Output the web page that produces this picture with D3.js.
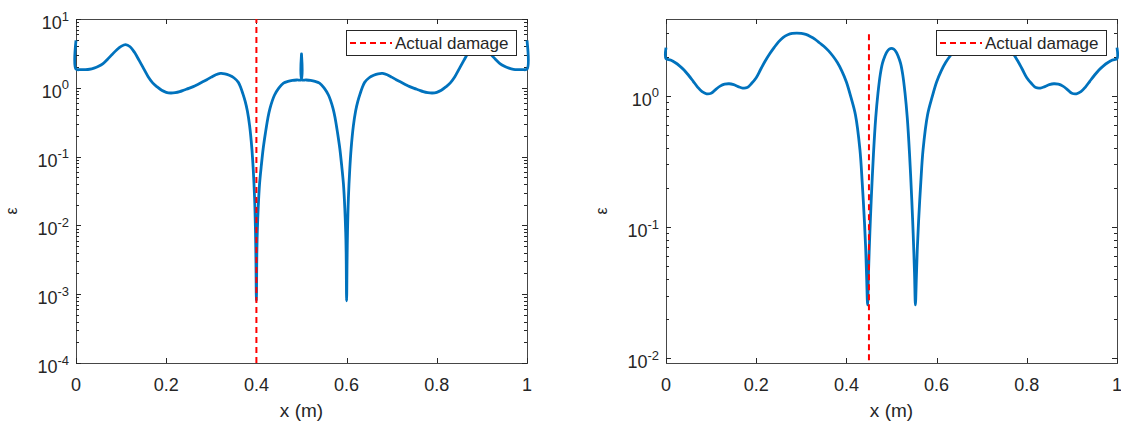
<!DOCTYPE html>
<html>
<head>
<meta charset="utf-8">
<script src="https://cdn.jsdelivr.net/npm/d3@7"></script>
<style>
  html, body { margin: 0; padding: 0; background: #fff; }
  svg { display: block; }
  text { font-family: "Liberation Sans", Arial, sans-serif; fill: #262626; }
</style>
</head>
<body>
<svg id="chart" width="1121" height="427"></svg>
<script>
// ---------------- DATA ----------------
const xTickValues = [0, 0.2, 0.4, 0.6, 0.8, 1];
const xTickLabels = ["0", "0.2", "0.4", "0.6", "0.8", "1"];
const leftYExponents = [-4, -3, -2, -1, 0, 1];
const rightYExponents = [-2, -1, 0];

const leftX = [0, 0, 0.01, 0.02, 0.03, 0.04, 0.05, 0.06, 0.07, 0.08, 0.09, 0.10, 0.11, 0.12, 0.13, 0.14, 0.15, 0.16, 0.17, 0.18, 0.19, 0.20, 0.21, 0.22, 0.23, 0.24, 0.25, 0.26, 0.27, 0.28, 0.29, 0.30, 0.31, 0.32, 0.33, 0.34, 0.35, 0.36, 0.365, 0.37, 0.375, 0.38, 0.385, 0.39, 0.393, 0.396, 0.398, 0.399, 0.4, 0.401, 0.402, 0.404, 0.407, 0.411, 0.415, 0.42, 0.425, 0.43, 0.44, 0.45, 0.46, 0.47, 0.48, 0.49, 0.499, 0.5, 0.501, 0.51, 0.52, 0.53, 0.54, 0.55, 0.56, 0.57, 0.575, 0.58, 0.585, 0.589, 0.593, 0.596, 0.598, 0.599, 0.6, 0.601, 0.602, 0.604, 0.607, 0.61, 0.615, 0.62, 0.625, 0.63, 0.635, 0.64, 0.65, 0.66, 0.67, 0.68, 0.69, 0.70, 0.71, 0.72, 0.73, 0.74, 0.75, 0.76, 0.77, 0.78, 0.79, 0.80, 0.81, 0.82, 0.83, 0.84, 0.85, 0.86, 0.87, 0.88, 0.89, 0.90, 0.91, 0.92, 0.93, 0.94, 0.95, 0.96, 0.97, 0.98, 0.99, 1.0, 1.0];
const leftEps = [4.9, 1.87, 1.84, 1.84, 1.86, 1.93, 2.05, 2.25, 2.6, 3.05, 3.55, 4.0, 4.25, 3.95, 3.25, 2.5, 1.9, 1.45, 1.18, 1.03, 0.92, 0.86, 0.84, 0.85, 0.88, 0.93, 0.98, 1.04, 1.12, 1.21, 1.31, 1.43, 1.55, 1.62, 1.6, 1.52, 1.4, 1.2, 1.02, 0.82, 0.64, 0.46, 0.28, 0.13, 0.065, 0.025, 0.008, 0.003, 0.0008, 0.004, 0.008, 0.018, 0.04, 0.075, 0.13, 0.22, 0.35, 0.5, 0.78, 1.0, 1.17, 1.24, 1.28, 1.3, 1.31, 3.1, 1.31, 1.3, 1.28, 1.24, 1.17, 1.0, 0.78, 0.5, 0.35, 0.22, 0.13, 0.075, 0.04, 0.018, 0.008, 0.004, 0.0008, 0.003, 0.008, 0.025, 0.065, 0.13, 0.28, 0.46, 0.64, 0.82, 1.02, 1.2, 1.4, 1.52, 1.6, 1.62, 1.55, 1.43, 1.31, 1.21, 1.12, 1.04, 0.98, 0.93, 0.88, 0.85, 0.84, 0.86, 0.92, 1.03, 1.18, 1.45, 1.9, 2.5, 3.25, 3.95, 4.25, 4.0, 3.55, 3.05, 2.6, 2.25, 2.05, 1.93, 1.86, 1.84, 1.84, 1.87, 4.9];

const rightX = [0, 0, 0.01, 0.02, 0.03, 0.04, 0.05, 0.06, 0.07, 0.08, 0.09, 0.10, 0.11, 0.12, 0.13, 0.14, 0.15, 0.16, 0.17, 0.18, 0.19, 0.20, 0.21, 0.22, 0.23, 0.24, 0.25, 0.26, 0.27, 0.28, 0.29, 0.30, 0.31, 0.32, 0.33, 0.34, 0.35, 0.36, 0.37, 0.38, 0.39, 0.40, 0.41, 0.42, 0.43, 0.435, 0.44, 0.443, 0.445, 0.447, 0.449, 0.452, 0.455, 0.46, 0.465, 0.47, 0.475, 0.48, 0.485, 0.49, 0.495, 0.5, 0.505, 0.51, 0.515, 0.52, 0.525, 0.53, 0.535, 0.54, 0.545, 0.548, 0.551, 0.553, 0.555, 0.557, 0.56, 0.565, 0.57, 0.58, 0.59, 0.60, 0.61, 0.62, 0.63, 0.64, 0.65, 0.66, 0.67, 0.68, 0.69, 0.70, 0.71, 0.72, 0.73, 0.74, 0.75, 0.76, 0.77, 0.78, 0.79, 0.80, 0.81, 0.82, 0.83, 0.84, 0.85, 0.86, 0.87, 0.88, 0.89, 0.90, 0.91, 0.92, 0.93, 0.94, 0.95, 0.96, 0.97, 0.98, 0.99, 1.0, 1.0];
const rightEps = [2.34, 1.93, 1.88, 1.8, 1.7, 1.58, 1.44, 1.3, 1.17, 1.08, 1.04, 1.05, 1.12, 1.19, 1.23, 1.24, 1.22, 1.18, 1.15, 1.16, 1.25, 1.38, 1.6, 1.85, 2.1, 2.35, 2.6, 2.8, 2.93, 3.0, 3.02, 3.0, 2.95, 2.85, 2.72, 2.55, 2.4, 2.22, 2.02, 1.8, 1.55, 1.28, 0.98, 0.72, 0.39, 0.22, 0.11, 0.065, 0.04, 0.0254, 0.045, 0.09, 0.16, 0.36, 0.68, 1.05, 1.45, 1.78, 2.0, 2.18, 2.28, 2.31, 2.28, 2.18, 2.0, 1.78, 1.45, 1.05, 0.68, 0.36, 0.16, 0.09, 0.045, 0.0254, 0.04, 0.065, 0.11, 0.22, 0.39, 0.72, 0.98, 1.28, 1.55, 1.8, 2.02, 2.22, 2.4, 2.55, 2.72, 2.85, 2.95, 3.0, 3.02, 3.0, 2.93, 2.8, 2.6, 2.35, 2.1, 1.85, 1.6, 1.38, 1.25, 1.16, 1.15, 1.18, 1.22, 1.24, 1.23, 1.19, 1.12, 1.05, 1.04, 1.08, 1.17, 1.3, 1.44, 1.58, 1.7, 1.8, 1.88, 1.93, 2.34];

const leftDamageX = 0.4;
const leftDamageY = [1e-4, 10];
const rightDamageX = 0.45;
const rightDamageY = [0.0096, 3.0];
const legendLabel = "Actual damage";
const xLabel = "x (m)";
const yLabel = "\u03B5";

// ---------------- DRAW ----------------
const svg = d3.select("#chart");
const BLUE = "#0072BD";
const AXIS = "#262626";

function drawPanel(cfg) {
  const { left, right, top, bottom, yDomain, exps, xs, ys, dmgX, dmgY } = cfg;
  const x = d3.scaleLinear().domain([0, 1]).range([left, right]);
  const y = d3.scaleLog().domain(yDomain).range([bottom, top]);
  const g = svg.append("g");

  g.append("rect")
    .attr("x", left + 0.5).attr("y", top + 0.5)
    .attr("width", right - left).attr("height", bottom - top)
    .attr("fill", "none").attr("stroke", AXIS).attr("stroke-width", 1).attr("stroke-opacity", 0.85);

  xTickValues.forEach((v, i) => {
    const px = Math.round(x(v)) + 0.5;
    g.append("line").attr("x1", px).attr("x2", px).attr("y1", bottom).attr("y2", bottom - 5)
      .attr("stroke", AXIS).attr("stroke-width", 1);
    g.append("line").attr("x1", px).attr("x2", px).attr("y1", top).attr("y2", top + 5)
      .attr("stroke", AXIS).attr("stroke-width", 1);
    g.append("text").attr("x", x(v)).attr("y", bottom + 28)
      .attr("text-anchor", "middle").attr("font-size", 18).text(xTickLabels[i]);
  });

  const [d0, d1] = yDomain;
  const eMin = Math.floor(Math.log10(d0)), eMax = Math.ceil(Math.log10(d1));
  for (let e = eMin; e <= eMax; e++) {
    for (let m = 1; m <= 9; m++) {
      const v = m * Math.pow(10, e);
      if (v < d0 * 0.999 || v > d1 * 1.001) continue;
      const py = Math.round(y(v)) + 0.5;
      const len = m === 1 ? 5 : 3;
      g.append("line").attr("x1", left).attr("x2", left + len).attr("y1", py).attr("y2", py)
        .attr("stroke", AXIS).attr("stroke-width", 1);
      g.append("line").attr("x1", right).attr("x2", right - len).attr("y1", py).attr("y2", py)
        .attr("stroke", AXIS).attr("stroke-width", 1);
    }
  }
  exps.forEach(e => {
    const py = y(Math.pow(10, e));
    const t = g.append("text").attr("x", left - 7).attr("y", py + 10)
      .attr("text-anchor", "end").attr("font-size", 18);
    t.append("tspan").text("10");
    t.append("tspan").attr("dy", -8.5).attr("font-size", 13).text(String(e));
  });

  g.append("text").attr("x", (left + right) / 2).attr("y", bottom + 54)
    .attr("text-anchor", "middle").attr("font-size", 19).text(xLabel);
  const ylx = left - 59, yly = (top + bottom) / 2 + 20;
  g.append("text").attr("transform", `translate(${ylx},${yly}) rotate(-90)`)
    .attr("text-anchor", "middle").attr("font-size", 16)
    .attr("font-family", "'DejaVu Serif', serif").attr("fill", "#555")
    .text(yLabel);

  const pts = xs.map((v, i) => [v, ys[i]]);
  const line = d3.line().x(d => x(d[0])).y(d => y(d[1])).curve(d3.curveCatmullRom.alpha(0.5));
  g.append("path").attr("d", line(pts)).attr("fill", "none")
    .attr("stroke", BLUE).attr("stroke-width", 2.8).attr("stroke-linejoin", "round");

  g.append("line").attr("x1", x(dmgX)).attr("x2", x(dmgX))
    .attr("y1", y(dmgY[0])).attr("y2", y(dmgY[1]))
    .attr("stroke", "#FF0000").attr("stroke-width", 2).attr("stroke-dasharray", "6,4");

  const lw = 170, lh = 25;
  const lx = right - 11 - lw, ly = top + 11;
  g.append("rect").attr("x", lx + 0.5).attr("y", ly + 0.5).attr("width", lw).attr("height", lh)
    .attr("fill", "#fff").attr("stroke", AXIS).attr("stroke-width", 1);
  g.append("line").attr("x1", lx + 4).attr("x2", lx + 46).attr("y1", ly + 13).attr("y2", ly + 13)
    .attr("stroke", "#FF0000").attr("stroke-width", 2).attr("stroke-dasharray", "6,4");
  g.append("text").attr("x", lx + 49).attr("y", ly + 19).attr("font-size", 17)
    .attr("fill", "#000").text(legendLabel);
}

drawPanel({ left: 76, right: 527, top: 19, bottom: 363, yDomain: [1e-4, 10], exps: leftYExponents,
  xs: leftX, ys: leftEps, dmgX: leftDamageX, dmgY: leftDamageY });
drawPanel({ left: 666, right: 1117, top: 19, bottom: 363, yDomain: [0.00916, 3.87], exps: rightYExponents,
  xs: rightX, ys: rightEps, dmgX: rightDamageX, dmgY: rightDamageY });
</script>
</body>
</html>
